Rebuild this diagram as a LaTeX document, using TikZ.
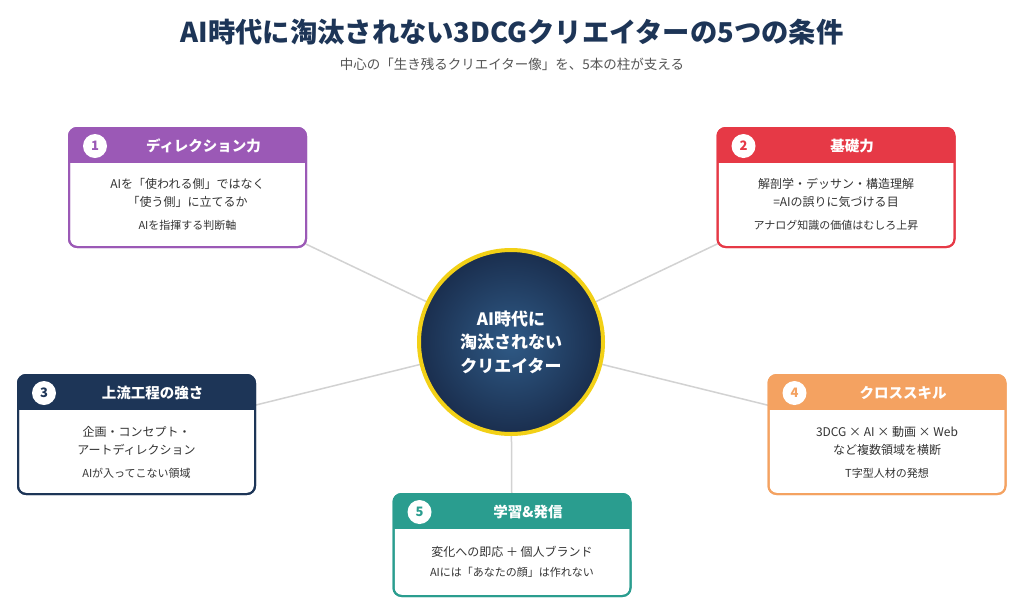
\documentclass[tikz,border=0pt]{standalone}
\usepackage{fontspec}
\setmainfont{Noto Sans CJK JP}
\usepackage{xcolor}
\usetikzlibrary{positioning, calc, backgrounds}

\definecolor{navy}{HTML}{1D3557}
\definecolor{purp}{HTML}{9B59B6}
\definecolor{redc}{HTML}{E63946}
\definecolor{orng}{HTML}{F4A261}
\definecolor{teal}{HTML}{2A9D8F}
\definecolor{gold}{HTML}{F2D016}
\definecolor{corein}{HTML}{2F5A86}
\definecolor{coreout}{HTML}{1A2E4E}
\definecolor{txtgray}{HTML}{333333}
\definecolor{subgray}{HTML}{555555}
\definecolor{spokegray}{HTML}{D2D2D2}

\tikzset{
  pillar/.style={draw, line width=2pt, fill=white, rounded corners=8pt,
    minimum width=237pt, outer sep=0pt, inner sep=0pt},
  numdot/.style={circle, fill=white, minimum size=24pt, inner sep=0pt,
    font=\fontsize{13}{13}\selectfont\bfseries},
  headtext/.style={text=white, font=\fontsize{14.5}{16}\selectfont\bfseries},
  bodytext/.style={text=txtgray, align=center, font=\fontsize{12}{18.5}\selectfont},
  subtext/.style={text=txtgray, font=\fontsize{11}{13}\selectfont},
  spoke/.style={draw=spokegray, line width=1.5pt},
  corecircle/.style={circle, minimum size=184pt, draw=gold, line width=4pt,
    shading=radial, inner color=corein, outer color=coreout,
    text=white, align=center, font=\fontsize{17}{23.5}\selectfont\bfseries},
}

% 柱の枠 (frame): name, color, x, y, height, number, title
\newcommand{\pillarframe}[7]{%
  \node[pillar, draw=#2, minimum height=#5] (#1) at (#3,#4) {};
  \begin{scope}
    \clip[rounded corners=8pt] (#1.north west) rectangle (#1.south east);
    \fill[#2] (#1.north west) rectangle ($(#1.north east)+(0,35)$);
  \end{scope}
  \draw[#2, line width=2pt, rounded corners=8pt] (#1.north west) rectangle (#1.south east);
  \node[numdot, text=#2] (#1n) at ($(#1.north west)+(26,18)$) {#6};
  \node[headtext] (#1t) at ($(#1.north)+(16,18)$) {#7};
}

\begin{document}
\begin{tikzpicture}[x=1pt, y=-1pt]

  \useasboundingbox (0,0) rectangle (1024,614);

  % ==========================================
  % タイトル (Title)
  % ==========================================
  \node[text=navy, font=\fontsize{27.3}{30}\selectfont\bfseries] (title) at (512,32)
    {AI時代に淘汰されない3DCGクリエイターの5つの条件};
  \node[text=subgray, font=\fontsize{13.5}{15}\selectfont] (subtitle) at (512,64)
    {中心の「生き残るクリエイター像」を、5本の柱が支える};

  % ==========================================
  % 中心の円 (Core)
  % ==========================================
  \node[corecircle] (core) at (511,342) {AI時代に\\淘汰されない\\クリエイター};

  % ==========================================
  % 5本の柱 (Pillars)
  % ==========================================
  \pillarframe{p1}{purp}{187.5}{187.5}{119}{1}{ディレクション力}
  \node[bodytext] (p1b) at ($(p1.north)+(0,65)$) {AIを「使われる側」ではなく\\「使う側」に立てるか};
  \node[subtext] (p1s) at ($(p1.north)+(0,97)$) {AIを指揮する判断軸};

  \pillarframe{p2}{redc}{836}{187.5}{119}{2}{基礎力}
  \node[bodytext] (p2b) at ($(p2.north)+(0,65)$) {解剖学・デッサン・構造理解\\=AIの誤りに気づける目};
  \node[subtext] (p2s) at ($(p2.north)+(0,97)$) {アナログ知識の価値はむしろ上昇};

  \pillarframe{p3}{navy}{136.5}{434.5}{119}{3}{上流工程の強さ}
  \node[bodytext] (p3b) at ($(p3.north)+(0,66)$) {企画・コンセプト・\\アートディレクション};
  \node[subtext] (p3s) at ($(p3.north)+(0,98)$) {AIが入ってこない領域};

  \pillarframe{p4}{orng}{887}{434.5}{119}{4}{クロススキル}
  \node[bodytext] (p4b) at ($(p4.north)+(0,66)$) {3DCG × AI × 動画 × Web\\など複数領域を横断};
  \node[subtext] (p4s) at ($(p4.north)+(0,98)$) {T字型人材の発想};

  \pillarframe{p5}{teal}{512}{545}{102}{5}{学習\&発信}
  \node[bodytext] (p5b) at ($(p5.north)+(0,58)$) {変化への即応 ＋ 個人ブランド};
  \node[subtext] (p5s) at ($(p5.north)+(0,78)$) {AIには「あなたの顔」は作れない};

  % ==========================================
  % 背景と連結線 (Background & spokes)
  % ==========================================
  \begin{pgfonlayer}{background}
    \fill[white] (0,0) rectangle (1024,614);
    \foreach \p in {p1,p2,p3,p4,p5}
      \draw[spoke] (core.center) -- (\p.center);
  \end{pgfonlayer}

\end{tikzpicture}
\end{document}
